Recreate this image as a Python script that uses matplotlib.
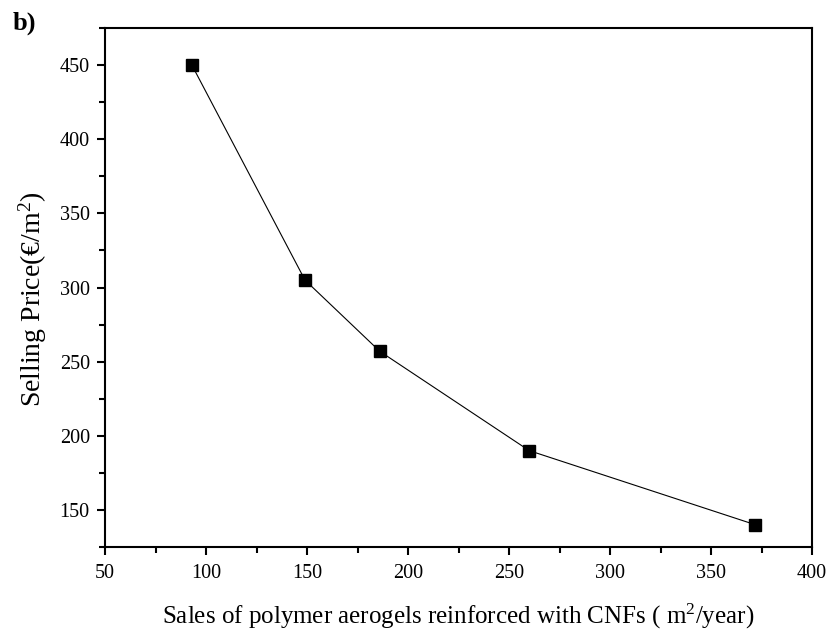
import matplotlib.pyplot as plt
from matplotlib.ticker import MultipleLocator

# data
sales = [93, 149, 186, 260, 372]
price = [450, 305, 257, 190, 140]

plt.rcParams["font.family"] = ["Liberation Serif", "DejaVu Serif"]
plt.rcParams["mathtext.fontset"] = "custom"
plt.rcParams["mathtext.rm"] = "Liberation Serif"
plt.rcParams["mathtext.it"] = "Liberation Serif:italic"

fig = plt.figure(figsize=(8.29, 6.31), dpi=100)
ax = fig.add_axes([0.1267, 0.1331, 0.8528, 0.8225])

ax.plot(sales, price, color="black", lw=0.8, marker="s", ms=8.5,
        markerfacecolor="black", markeredgecolor="black")

ax.set_xlim(50, 400)
ax.set_ylim(125, 475)
ax.xaxis.set_major_locator(MultipleLocator(50))
ax.xaxis.set_minor_locator(MultipleLocator(25))
ax.yaxis.set_major_locator(MultipleLocator(50))
ax.yaxis.set_minor_locator(MultipleLocator(25))

ax.tick_params(which="both", direction="out", width=1.5, labelsize=14.5)
ax.tick_params(axis="x", pad=7)
ax.tick_params(axis="y", pad=5.5)
ax.tick_params(which="major", length=5.5)
ax.tick_params(which="minor", length=4)
for s in ax.spines.values():
    s.set_linewidth(1.5)

ax.set_xlabel("Sales of polymer aerogels reinforced with CNFs ( m$^2$/year)",
              fontsize=18)
ax.set_ylabel("Selling Price(€/m$^2$)", fontsize=20)
ax.xaxis.set_label_coords(0.5, -0.105)
ax.yaxis.set_label_coords(-0.079, 0.478)

fig.text(0.015, 0.982, "b)", fontsize=19, fontweight="bold", va="top", ha="left")

plt.savefig("out.png", dpi=100)
